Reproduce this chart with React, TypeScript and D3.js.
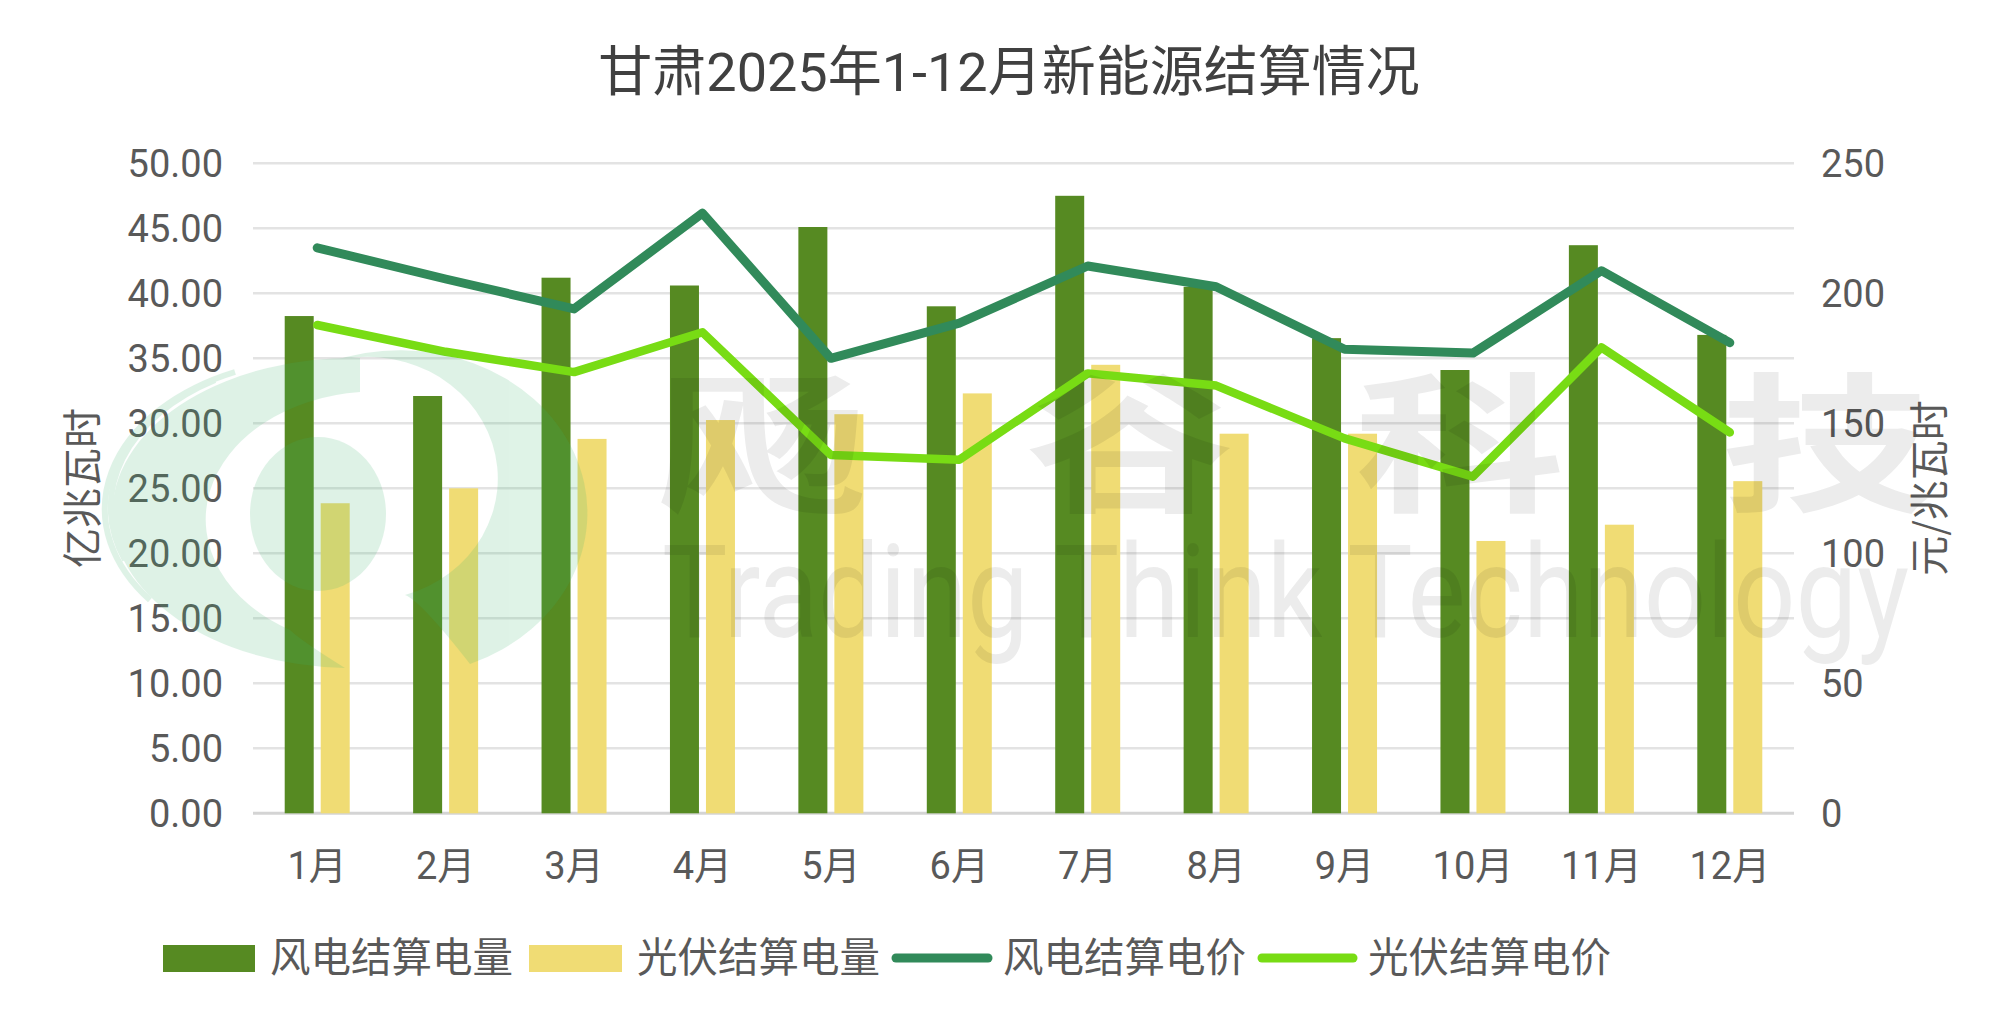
import React from "react";
import * as d3 from "d3";

const months = ["1月", "2月", "3月", "4月", "5月", "6月", "7月", "8月", "9月", "10月", "11月", "12月"];
const windVolume = [38.25, 32.1, 41.2, 40.6, 45.1, 39.0, 47.5, 40.5, 36.55, 34.1, 43.7, 36.8];
const solarVolume = [23.85, 25.0, 28.8, 30.25, 30.7, 32.3, 34.5, 29.2, 29.2, 20.95, 22.2, 25.55];
const windPrice = [217.5, 205.5, 194, 230.8, 175, 188.5, 210.5, 202.5, 178.5, 177, 208.7, 181];
const solarPrice = [187.8, 177.5, 169.7, 185, 137.8, 136, 169.2, 164.5, 144.2, 129.5, 179.2, 146.5];

const title = "甘肃2025年1-12月新能源结算情况";
const leftAxisTitle = "亿兆瓦时";
const rightAxisTitle = "元/兆瓦时";
const legendLabels = ["风电结算电量", "光伏结算电量", "风电结算电价", "光伏结算电价"];
const watermarkChars = ["飏", "谷", "科", "技"];
const watermarkSub = "Trading Think Technology";

const W = 2016;
const H = 1029;
const C_WIND_BAR = "#568A22";
const C_SOLAR_BAR = "#F0DC74";
const C_WIND_LINE = "#318A5A";
const C_SOLAR_LINE = "#78DC14";
const TXT = "#595959";
const NUM_FONT = "Roboto, 'Noto Sans CJK SC', sans-serif";
const CJK_FONT = "'Noto Sans CJK SC', sans-serif";

export default function App() {
  const x = d3.scaleBand<string>().domain(months).range([253, 1794]).padding(0);
  const yL = d3.scaleLinear().domain([0, 50]).range([813.3, 163.3]);
  const yR = d3.scaleLinear().domain([0, 250]).range([813.3, 163.3]);
  const cx = (i: number) => (x(months[i]) as number) + x.bandwidth() / 2;
  const barW = 29;
  const gap = 7;
  const leftTicks = yL.ticks(10);
  const rightTicks = yR.ticks(5);
  const fmtL = d3.format(".2f");
  const line = d3
    .line<number>()
    .x((_, i) => cx(i))
    .y((d) => yR(d));

  const ellipse = (ex: number, ey: number, rx: number, ry: number) =>
    `M${ex - rx},${ey} a${rx},${ry} 0 1,0 ${2 * rx},0 a${rx},${ry} 0 1,0 ${-2 * rx},0 Z`;

  // watermark logo pieces
  const leftCrescent =
    "M360,358 A240,155 0 0,0 345,668 Q300,640 290,630 A170,128 0 0,1 360,392 Z";
  const rightCrescent =
    "M330,362 A175,152 0 0,1 470,664 Q420,600 405,595 A120,112 0 0,0 330,362 Z";
  const stripes = [
    "M235,372 A220,150 0 0,0 150,600",
    "M215,380 A215,148 0 0,0 125,560",
  ];

  const wmCenters = [762, 1130, 1460, 1826];

  return (
    <div style={{ position: "fixed", left: 0, top: 0, background: "#fff" }}>
      <svg width={W} height={H} viewBox={`0 0 ${W} ${H}`} style={{ display: "block" }}>
        <rect x={0} y={0} width={W} height={H} fill="#fff" />
        <text x={1009} y={91} textAnchor="middle" fontFamily={NUM_FONT} fontSize={54} fill="#404040">
          {title}
        </text>

        {/* grid */}
        {leftTicks.map((t) => (
          <line
            key={"g" + t}
            x1={253}
            x2={1794}
            y1={yL(t)}
            y2={yL(t)}
            stroke={t === 0 ? "#d4d4d4" : "#e3e3e3"}
            strokeWidth={t === 0 ? 3 : 2.6}
          />
        ))}

        {/* left ticks */}
        {leftTicks.map((t) => (
          <text key={"l" + t} x={223} y={yL(t) + 13.7} textAnchor="end" fontFamily={NUM_FONT} fontSize={38} fill={TXT}>
            {fmtL(t)}
          </text>
        ))}
        {/* right ticks */}
        {rightTicks.map((t) => (
          <text key={"r" + t} x={1821} y={yR(t) + 13.7} textAnchor="start" fontFamily={NUM_FONT} fontSize={38} fill={TXT}>
            {t}
          </text>
        ))}

        {/* axis titles */}
        <text
          transform={`translate(97,488) rotate(-90)`}
          textAnchor="middle"
          fontFamily={CJK_FONT}
          fontSize={40}
          fill={TXT}
        >
          {leftAxisTitle}
        </text>
        <text
          transform={`translate(1944,488) rotate(-90)`}
          textAnchor="middle"
          fontFamily={CJK_FONT}
          fontSize={40}
          fill={TXT}
        >
          {rightAxisTitle}
        </text>

        {/* bars */}
        {windVolume.map((v, i) => (
          <rect key={"wb" + i} x={cx(i) - gap / 2 - barW} y={yL(v)} width={barW} height={yL(0) - yL(v)} fill={C_WIND_BAR} />
        ))}
        {solarVolume.map((v, i) => (
          <rect key={"sb" + i} x={cx(i) + gap / 2} y={yL(v)} width={barW} height={yL(0) - yL(v)} fill={C_SOLAR_BAR} />
        ))}

        {/* lines */}
        <path d={line(windPrice) || ""} fill="none" stroke={C_WIND_LINE} strokeWidth={9} strokeLinejoin="round" strokeLinecap="round" />
        <path d={line(solarPrice) || ""} fill="none" stroke={C_SOLAR_LINE} strokeWidth={8.5} strokeLinejoin="round" strokeLinecap="round" />

        {/* x labels */}
        {months.map((m, i) => (
          <text key={"x" + i} x={cx(i)} y={879} textAnchor="middle" fontFamily={NUM_FONT} fontSize={38} fill={TXT}>
            {m}
          </text>
        ))}

        {/* watermark logo */}
        <g opacity={0.165}>
          <g fill="rgb(60,180,110)">
            <path d={leftCrescent} />
            <path d={rightCrescent} />
            <path d={ellipse(318, 514, 68, 77)} />
          </g>
          <g fill="none" stroke="rgb(60,180,110)" strokeWidth={6}>
            {stripes.map((s, i) => (
              <path key={"st" + i} d={s} />
            ))}
          </g>
        </g>

        {/* watermark text */}
        <g fill="#000" opacity={0.075}>
          {watermarkChars.map((c, i) => (
            <text
              key={"wm" + i}
              transform={`translate(${wmCenters[i]},500) scale(1.4,1)`}
              textAnchor="middle"
              fontFamily={CJK_FONT}
              fontWeight={700}
              fontSize={150}
            >
              {c}
            </text>
          ))}
          <text
            x={662}
            y={637}
            textLength={1247}
            lengthAdjust="spacingAndGlyphs"
            fontFamily={NUM_FONT}
            fontSize={130}
          >
            {watermarkSub}
          </text>
        </g>

        {/* legend */}
        <rect x={163} y={945} width={92} height={27} fill={C_WIND_BAR} />
        <text x={270} y={972} fontFamily={CJK_FONT} fontSize={40.5} fill={TXT}>
          {legendLabels[0]}
        </text>
        <rect x={529} y={945} width={93} height={27} fill={C_SOLAR_BAR} />
        <text x={637} y={972} fontFamily={CJK_FONT} fontSize={40.5} fill={TXT}>
          {legendLabels[1]}
        </text>
        <line x1={896} x2={988} y1={958} y2={958} stroke={C_WIND_LINE} strokeWidth={9} strokeLinecap="round" />
        <text x={1003} y={972} fontFamily={CJK_FONT} fontSize={40.5} fill={TXT}>
          {legendLabels[2]}
        </text>
        <line x1={1262} x2={1353} y1={958} y2={958} stroke={C_SOLAR_LINE} strokeWidth={9} strokeLinecap="round" />
        <text x={1368} y={972} fontFamily={CJK_FONT} fontSize={40.5} fill={TXT}>
          {legendLabels[3]}
        </text>
      </svg>
    </div>
  );
}
